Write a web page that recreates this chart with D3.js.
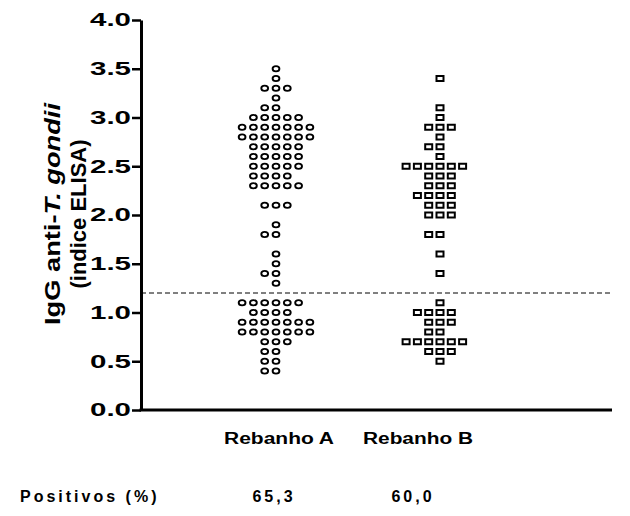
<!DOCTYPE html>
<html>
<head>
<meta charset="utf-8">
<script src="https://cdn.jsdelivr.net/npm/d3@7"></script>
<style>
    body { margin: 0; background: #fff; }
    svg { display: block; font-family: "Liberation Sans", Arial, sans-serif; }
    .y.axis path.domain { stroke: #000; stroke-width: 3; }
    .y.axis .tick line { stroke: #000; stroke-width: 2.5; }
    .y.axis .tick text { font-size: 18px; font-weight: bold; fill: #000; }
    .baseline { stroke: #000; stroke-width: 3; }
    .cutoff { stroke: #000; stroke-width: 1; stroke-dasharray: 5 3; }
    .dotA { fill: #fff; stroke: #000; stroke-width: 1.9; }
    .dotB { fill: #fff; stroke: #000; stroke-width: 2; }
    .cat { font-size: 16px; font-weight: bold; }
    .pct { font-size: 16px; font-weight: bold; letter-spacing: 3px; }
    .ytitle { font-size: 22px; font-weight: bold; }
</style>
</head>
<body>
<div id="chart"></div>
<script>
/*global d3*/
(function () {
    "use strict";

    // data: one entry per animal (indice ELISA)
    var groups = ["Rebanho A", "Rebanho B"],
        rebanhoA = [
            3.5, 3.4, 3.3, 3.3, 3.3, 3.2, 3.1, 3.1,
            3.0, 3.0, 3.0, 3.0, 3.0,
            2.9, 2.9, 2.9, 2.9, 2.9, 2.9, 2.9,
            2.8, 2.8, 2.8, 2.8, 2.8, 2.8, 2.8,
            2.7, 2.7, 2.7, 2.7, 2.7,
            2.6, 2.6, 2.6, 2.6, 2.6,
            2.5, 2.5, 2.5, 2.5, 2.5,
            2.4, 2.4, 2.4, 2.4,
            2.3, 2.3, 2.3, 2.3, 2.3,
            2.1, 2.1, 2.1, 1.9, 1.8, 1.8, 1.6, 1.5, 1.4, 1.4, 1.3,
            1.1, 1.1, 1.1, 1.1, 1.1, 1.1,
            1.0, 1.0, 1.0, 1.0,
            0.9, 0.9, 0.9, 0.9, 0.9, 0.9, 0.9,
            0.8, 0.8, 0.8, 0.8, 0.8, 0.8, 0.8,
            0.7, 0.7, 0.7, 0.6, 0.6, 0.5, 0.5, 0.4, 0.4
        ],
        rebanhoB = [
            3.4, 3.1, 3.0, 2.9, 2.9, 2.9, 2.8, 2.7, 2.7, 2.6,
            2.5, 2.5, 2.5, 2.5, 2.5, 2.5,
            2.4, 2.4, 2.4, 2.3, 2.3, 2.3,
            2.2, 2.2, 2.2, 2.2, 2.1, 2.1, 2.1, 2.0, 2.0, 2.0,
            1.8, 1.8, 1.6, 1.4,
            1.1, 1.0, 1.0, 1.0, 1.0, 0.9, 0.9, 0.9, 0.8, 0.8,
            0.7, 0.7, 0.7, 0.7, 0.7, 0.7, 0.6, 0.6, 0.6, 0.5
        ],
        positivos = ["65,3", "60,0"],
        yTicks = [0, 0.5, 1, 1.5, 2, 2.5, 3, 3.5, 4],
        cutoff = 1.2,

        margin = {top: 20, right: 18, bottom: 106, left: 141},
        widthGlobal = 630,
        heightGlobal = 516,
        width = widthGlobal - margin.left - margin.right,
        height = heightGlobal - margin.top - margin.bottom,

        // columns of points
        x = d3.scalePoint()
            .domain(groups)
            .range([135, 299]),

        // labels under the axis sit a bit apart from the columns
        xLab = d3.scalePoint()
            .domain(groups)
            .range([138, 277]),

        y = d3.scaleLinear()
            .domain([0, 4])
            .range([height, 0]),

        step = 11.3, // horizontal gap between stacked points

        svg = d3.select("#chart").append("svg")
            .attr("width", widthGlobal)
            .attr("height", heightGlobal),

        g = svg.append("g")
            .attr("transform", "translate(" + margin.left + "," + margin.top + ")");

    // spread the points that share a value side by side
    function spread(values, group) {
        var rows = d3.groups(values, function (v) { return v; }),
            out = [];
        rows.forEach(function (r) {
            var n = r[1].length;
            r[1].forEach(function (v, i) {
                var off = i - (n - 1) / 2;
                if (n % 2 === 0) { off -= 0.5; }
                out.push({group: group, value: v, off: off});
            });
        });
        return out;
    }

    var pts = spread(rebanhoA, groups[0]).concat(spread(rebanhoB, groups[1]));

    // cut-off line
    g.append("line")
        .attr("class", "cutoff")
        .attr("x1", 0)
        .attr("x2", width)
        .attr("y1", y(cutoff))
        .attr("y2", y(cutoff));

    g.append("g").selectAll("ellipse")
        .data(pts.filter(function (d) { return d.group === groups[0]; }))
        .enter().append("ellipse")
        .attr("class", "dotA")
        .attr("cx", function (d) { return x(d.group) + d.off * step; })
        .attr("cy", function (d) { return y(d.value); })
        .attr("rx", 3.4)
        .attr("ry", 2.6);

    g.append("g").selectAll("rect")
        .data(pts.filter(function (d) { return d.group === groups[1]; }))
        .enter().append("rect")
        .attr("class", "dotB")
        .attr("x", function (d) { return x(d.group) + d.off * step - 3.5; })
        .attr("y", function (d) { return y(d.value) - 2.5; })
        .attr("width", 7)
        .attr("height", 5);

    // axes
    g.append("g")
        .attr("class", "y axis")
        .call(d3.axisLeft(y).tickValues(yTicks).tickFormat(d3.format(".1f")).tickSize(9).tickSizeOuter(0))
        .selectAll(".tick text")
        .attr("x", -10)
        .attr("textLength", 41)
        .attr("lengthAdjust", "spacingAndGlyphs");

    g.append("line")
        .attr("class", "baseline")
        .attr("x1", -1.5)
        .attr("x2", width)
        .attr("y1", height)
        .attr("y2", height);

    g.append("g").selectAll(".cat")
        .data(groups)
        .enter().append("text")
        .attr("class", "cat")
        .attr("text-anchor", "middle")
        .attr("x", function (d) { return xLab(d); })
        .attr("y", height + 34)
        .attr("textLength", 110)
        .attr("lengthAdjust", "spacingAndGlyphs")
        .text(function (d) { return d; });

    g.append("g").selectAll(".pct")
        .data(positivos)
        .enter().append("text")
        .attr("class", "pct")
        .attr("text-anchor", "middle")
        .attr("x", function (d, i) { return xLab(groups[i]) - 5; })
        .attr("y", height + 92)
        .text(function (d) { return d; });

    svg.append("text")
        .attr("class", "pct")
        .attr("x", 20)
        .attr("y", margin.top + height + 92)
        .text("Positivos (%)");

    // y title, two lines
    var t = svg.append("text")
        .attr("class", "ytitle")
        .attr("text-anchor", "middle")
        .attr("transform", "translate(0," + 214 + ") rotate(-90)");
    var l1 = t.append("tspan")
        .attr("x", 0).attr("y", 60)
        .attr("textLength", 222)
        .attr("lengthAdjust", "spacingAndGlyphs");
    l1.append("tspan").text("IgG anti-");
    l1.append("tspan").style("font-style", "italic").text("T. gondii");
    t.append("tspan")
        .attr("x", 0).attr("y", 86)
        .text("(indice ELISA)");
}());
</script>
</body>
</html>
